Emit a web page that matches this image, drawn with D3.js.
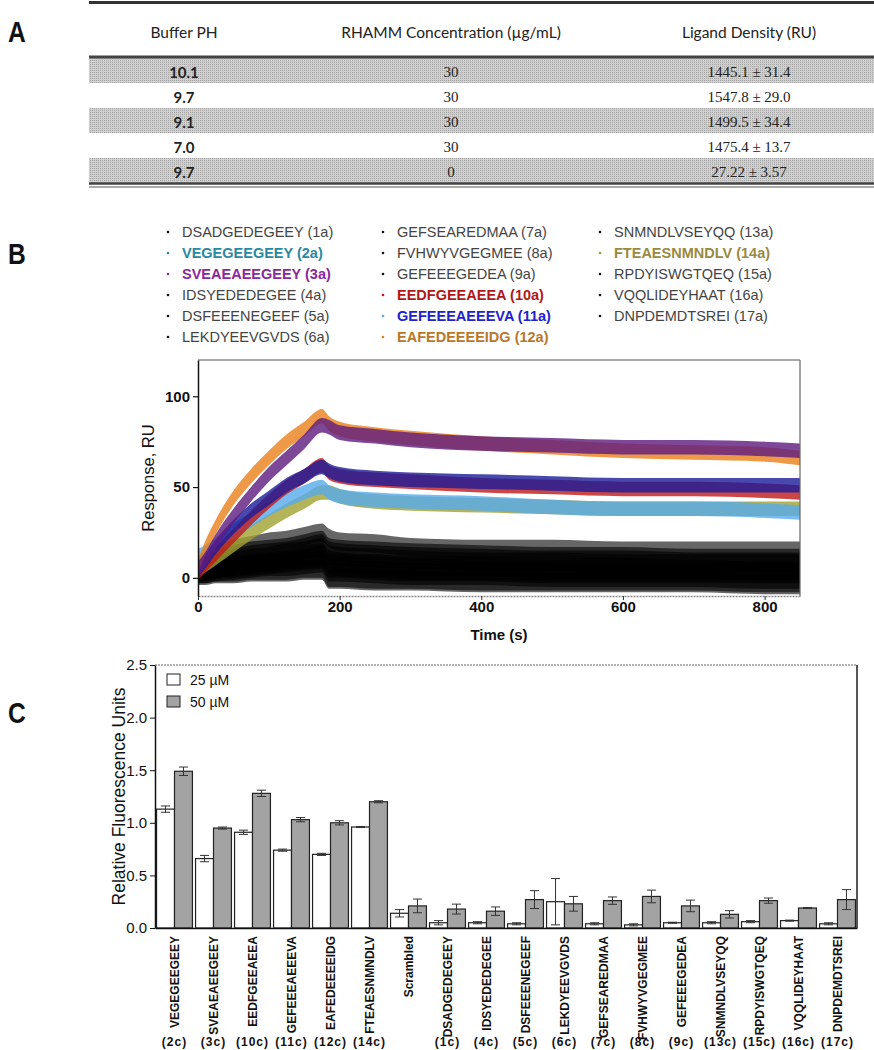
<!DOCTYPE html>
<html><head><meta charset="utf-8">
<script src="https://cdn.jsdelivr.net/npm/d3@7"></script>
<style>body{margin:0;background:#fff}</style>
</head><body><svg id="c" width="874" height="1050"></svg>
<script>
// ---------- Panel A data ----------
const tableHeaders = ["Buffer PH", "RHAMM Concentration (µg/mL)", "Ligand Density (RU)"];
const bufferPH = ["10.1", "9.7", "9.1", "7.0", "9.7"];
const rhammConc = ["30", "30", "30", "30", "0"];
const ligandDensity = ["1445.1 ± 31.4", "1547.8 ± 29.0", "1499.5 ± 34.4", "1475.4 ± 13.7", "27.22 ± 3.57"];

// ---------- Panel B data ----------
const legendLabels = ["DSADGEDEGEEY (1a)", "VEGEGEEGEEY (2a)", "SVEAEAEEGEEY (3a)", "IDSYEDEDEGEE (4a)",
  "DSFEEENEGEEF (5a)", "LEKDYEEVGVDS (6a)", "GEFSEAREDMAA (7a)", "FVHWYVGEGMEE (8a)", "GEFEEEGEDEA (9a)",
  "EEDFGEEAEEA (10a)", "GEFEEEAEEEVA (11a)", "EAFEDEEEEIDG (12a)", "SNMNDLVSEYQQ (13a)", "FTEAESNMNDLV (14a)",
  "RPDYISWGTQEQ (15a)", "VQQLIDEYHAAT (16a)", "DNPDEMDTSREI (17a)"];
const peptideIds = ["1a","2a","3a","4a","5a","6a","7a","8a","9a","10a","11a","12a","13a","14a","15a","16a","17a"];
const sensorTimes = [0, 10, 25, 50, 75, 100, 125, 150, 175, 185, 200, 250, 300, 400, 500, 600, 700, 800, 850];
const resp1a  = [3,4,5,6,8,9,10,11,13,8,8,7,6,6,5,5,5,4,4];
const resp2a  = [4,9,17,28,37,44,51,56,61,59,57,55,54,53,52,51,51,51,51];
const resp3a  = [5,10,20,34,46,57,66,75,84,83,80,78,76,74,73,72,72,71,70];
const resp4a  = [5,7,10,13,15,16,17,19,21,17,16,15,14,13,12,12,11,11,11];
const resp5a  = [2,2,3,3,4,4,4,5,5,0,0,-1,-1,-2,-2,-2,-2,-3,-3];
const resp6a  = [6,10,13,16,18,20,21,23,25,22,20,19,17,16,16,15,15,15,15];
const resp7a  = [4,4,5,7,8,10,11,13,14,10,9,8,7,7,6,6,5,5,5];
const resp8a  = [2,2,3,4,5,6,6,7,8,3,3,2,1,1,0,0,0,-1,-1];
const resp9a  = [3,3,4,5,6,7,8,9,10,5,5,4,3,3,2,2,2,2,2];
const resp10a = [3,7,13,23,33,42,50,56,62,58,56,54,53,51,50,49,49,48,47];
const resp11a = [12,14,18,26,32,38,43,47,50,47,45,43,42,41,39,38,38,37,36];
const resp12a = [6,16,28,44,56,66,75,82,89,85,82,79,77,74,72,70,69,68,66];
const resp13a = [4,4,5,6,7,8,9,10,11,7,6,5,4,4,3,3,3,3,3];
const resp14a = [5,7,11,18,25,31,37,42,47,47,45,42,41,40,39,38,38,38,38];
const resp15a = [3,4,6,9,11,12,14,15,17,13,12,11,10,9,9,8,8,8,8];
const resp16a = [1,1,2,2,3,3,3,4,4,-1,-1,-2,-2,-3,-3,-3,-3,-4,-4];
const resp17a = [5,6,8,11,13,14,15,17,19,15,14,13,12,11,10,10,9,9,9];
const xTicksB = [0, 200, 400, 600, 800];
const yTicksB = [0, 50, 100];

// ---------- Panel C data ----------
const categoriesC = ["VEGEGEEGEEY","SVEAEAEEGEEY","EEDFGEEAEEA","GEFEEEAEEEVA","EAFEDEEEEIDG","FTEAESNMNDLV",
  "Scrambled","DSADGEDEGEEY","IDSYEDEDEGEE","DSFEEENEGEEF","LEKDYEEVGVDS","GEFSEAREDMAA","FVHWYVGEGMEE",
  "GEFEEEGEDEA","SNMNDLVSEYQQ","RPDYISWGTQEQ","VQQLIDEYHAAT","DNPDEMDTSREI"];
const subLabelsC = ["(2c)","(3c)","(10c)","(11c)","(12c)","(14c)","","(1c)","(4c)","(5c)","(6c)","(7c)","(8c)","(9c)","(13c)","(15c)","(16c)","(17c)"];
const values25 = [1.13,0.66,0.91,0.74,0.70,0.96,0.14,0.05,0.05,0.04,0.25,0.04,0.03,0.05,0.05,0.06,0.07,0.04];
const err25    = [0.03,0.03,0.02,0.01,0.01,0.005,0.035,0.02,0.01,0.01,0.22,0.01,0.01,0.005,0.01,0.01,0.005,0.01];
const values50 = [1.49,0.95,1.28,1.03,1.00,1.20,0.21,0.18,0.16,0.27,0.23,0.26,0.30,0.21,0.13,0.26,0.19,0.27];
const err50    = [0.04,0.01,0.03,0.02,0.02,0.01,0.065,0.047,0.04,0.085,0.07,0.035,0.06,0.055,0.035,0.025,0.005,0.095];
const seriesC = ["25 µM", "50 µM"];
const yTicksC = [0, 0.5, 1.0, 1.5, 2.0, 2.5];

// ---------- styles ----------
const svg = d3.select("#c");
const SANS = "'Liberation Sans', Arial, sans-serif";
const defs = svg.append("defs");
const pat = defs.append("pattern").attr("id","shade").attr("width",2).attr("height",2).attr("patternUnits","userSpaceOnUse");
pat.append("rect").attr("width",2).attr("height",2).attr("fill","#d0d0d0");
pat.append("rect").attr("width",1).attr("height",1).attr("fill","#a4a4a4");

function panelLetter(t, x, y){
  svg.append("text").attr("transform",`translate(${x},${y}) scale(0.82,1)`)
    .attr("font-family",SANS).attr("font-weight","bold").attr("font-size",30).attr("fill","#111").text(t);
}

// ---------- Panel A ----------
panelLetter("A", 8, 42);
const tx0 = 89, tx1 = 874;
const colX = d3.scaleOrdinal().domain([0,1,2]).range([184, 451, 749]);
const rowY = d3.scaleBand().domain(d3.range(bufferPH.length)).range([58, 183]);
const gA = svg.append("g");
gA.selectAll("rect.sh").data(d3.range(bufferPH.length).filter(i=>i%2===0)).join("rect")
  .attr("x",tx0).attr("width",tx1-tx0).attr("y",i=>rowY(i)).attr("height",rowY.bandwidth())
  .attr("fill","url(#shade)");
gA.append("line").attr("x1",tx0).attr("x2",tx1).attr("y1",2.5).attr("y2",2.5).attr("stroke","#333").attr("stroke-width",3);
gA.append("line").attr("x1",tx0).attr("x2",tx1).attr("y1",57).attr("y2",57).attr("stroke","#444").attr("stroke-width",3);
gA.append("line").attr("x1",tx0).attr("x2",tx1).attr("y1",183.5).attr("y2",183.5).attr("stroke","#444").attr("stroke-width",2.5);
gA.append("line").attr("x1",tx0).attr("x2",tx1).attr("y1",187).attr("y2",187).attr("stroke","#555").attr("stroke-width",1);
gA.selectAll("text.h").data(tableHeaders).join("text")
  .attr("x",(d,i)=>colX(i)).attr("y",32).attr("text-anchor","middle").attr("dominant-baseline","central")
  .attr("font-family","Lato, 'Open Sans', sans-serif").attr("font-size",15.5).attr("fill","#222").text(d=>d);
const cols = [bufferPH, rhammConc, ligandDensity];
cols.forEach((arr, c) => {
  gA.selectAll("text.c"+c).data(arr).join("text")
    .attr("x",colX(c)).attr("y",(d,i)=>rowY(i)+rowY.bandwidth()/2+1)
    .attr("text-anchor","middle").attr("dominant-baseline","central")
    .attr("font-family", c===0 ? "Lato, sans-serif" : "'Liberation Serif', serif")
    .attr("font-weight", c===0 ? "bold" : "normal")
    .attr("font-size", 15).attr("fill","#222").text(d=>d);
});

// ---------- Panel B legend ----------
panelLetter("B", 8, 264);
const textColor = {"2a":"#2a88a0","3a":"#8a2a9a","10a":"#b01818","11a":"#2222cc","12a":"#b8782a","14a":"#9a8a40"};
const bulletColor = {"2a":"#2a88a0","3a":"#8a2a9a","10a":"#c01818","11a":"#55aaee","12a":"#e8801a","14a":"#a0a030"};
const legCol = d3.scaleOrdinal().domain([0,1,2]).range([168, 383, 600]);
const legRow = d3.scaleLinear().domain([0,5]).range([232, 337]);
const gL = svg.append("g");
legendLabels.forEach((lab, i) => {
  const id = peptideIds[i];
  const col = Math.floor(i/6), row = i%6;
  const x = legCol(col), y = legRow(row);
  gL.append("circle").attr("cx",x).attr("cy",y).attr("r",1.3).attr("fill", bulletColor[id] || "#111");
  gL.append("text").attr("x",x+14).attr("y",y).attr("dominant-baseline","central")
    .attr("font-family",SANS).attr("font-size",14.5)
    .attr("font-weight", textColor[id] ? "bold" : "normal")
    .attr("fill", textColor[id] || "#444").text(lab);
});

// ---------- Panel B plot ----------
const xB = d3.scaleLinear().domain([0, 850]).range([198, 800]);
const yB = d3.scaleLinear().domain([-10, 120]).range([596, 360]);
defs.append("clipPath").attr("id","clipB").append("rect")
  .attr("x",xB(0)).attr("y",yB(120)).attr("width",xB(850)-xB(0)).attr("height",yB(-10)-yB(120));
const gB = svg.append("g").attr("clip-path","url(#clipB)");
const blackSeries = [resp1a,resp4a,resp5a,resp6a,resp7a,resp8a,resp9a,resp13a,resp15a,resp16a,resp17a];
const colorSeries = [
  {v: resp14a, c: "#a0a030"},
  {v: resp11a, c: "#55aaee"},
  {v: resp10a, c: "#c01818"},
  {v: resp2a,  c: "#1a1a99"},
  {v: resp12a, c: "#e8801a"},
  {v: resp3a,  c: "#5e1a80"}
];
function band(vals, hw){
  return d3.area().x((d,i)=>xB(sensorTimes[i])).y0(d=>yB(d-hw)).y1(d=>yB(d+hw)).curve(d3.curveMonotoneX)(vals);
}
blackSeries.forEach(v => gB.append("path").attr("d", band(v, 5)).attr("fill","#000").attr("fill-opacity",0.6));
colorSeries.forEach(s => gB.append("path").attr("d", band(s.v, 4)).attr("fill", s.c).attr("fill-opacity",0.8));

// frame
svg.append("line").attr("x1",xB(0)).attr("x2",xB(850)).attr("y1",yB(120)).attr("y2",yB(120)).attr("stroke","#555").attr("stroke-width",1.2);
svg.append("line").attr("x1",xB(850)).attr("x2",xB(850)).attr("y1",yB(120)).attr("y2",yB(-10)).attr("stroke","#666").attr("stroke-width",1.2);
const axBx = svg.append("g").attr("transform",`translate(0,${yB(-10)})`)
  .call(d3.axisBottom(xB).tickValues(xTicksB).tickSize(4).tickSizeOuter(0));
axBx.select(".domain").attr("stroke","#888").attr("stroke-dasharray","2,1").attr("stroke-width",1.5);
axBx.selectAll(".tick line").attr("stroke","#333");
axBx.selectAll(".tick text").attr("font-family",SANS).attr("font-weight","bold").attr("font-size",15).attr("fill","#111").attr("dy","0.6em");
const axBy = svg.append("g").attr("transform",`translate(${xB(0)},0)`)
  .call(d3.axisLeft(yB).tickValues(yTicksB).tickSize(5).tickSizeOuter(0));
axBy.select(".domain").attr("stroke","#111").attr("stroke-width",1.5);
axBy.selectAll(".tick line").attr("stroke","#111").attr("stroke-width",1.2);
axBy.selectAll(".tick text").attr("font-family",SANS).attr("font-weight","bold").attr("font-size",15).attr("fill","#111");
svg.append("text").attr("x",(xB(0)+xB(850))/2).attr("y",634).attr("text-anchor","middle").attr("dominant-baseline","central")
  .attr("font-family",SANS).attr("font-weight","bold").attr("font-size",15).attr("fill","#111").text("Time (s)");
svg.append("text").attr("transform",`translate(148,${(yB(120)+yB(-10))/2}) rotate(-90)`).attr("text-anchor","middle")
  .attr("dominant-baseline","central").attr("font-family",SANS).attr("font-size",16.5).attr("fill","#111").text("Response, RU");

// ---------- Panel C ----------
panelLetter("C", 8, 723);
const x0 = d3.scaleBand().domain(categoriesC).range([155, 857]).paddingInner(0.08).paddingOuter(0.04);
const x1 = d3.scaleBand().domain(seriesC).range([0, x0.bandwidth()]);
const yC = d3.scaleLinear().domain([0, 2.5]).range([928, 665]);
const gC = svg.append("g");
gC.append("line").attr("x1",155).attr("x2",857).attr("y1",yC(2.5)).attr("y2",yC(2.5)).attr("stroke","#999").attr("stroke-dasharray","2,1").attr("stroke-width",1.3);
gC.append("line").attr("x1",857).attr("x2",857).attr("y1",yC(2.5)).attr("y2",yC(0)).attr("stroke","#555").attr("stroke-width",2);
const barData = [];
categoriesC.forEach((c,i)=>{
  barData.push({c, s: seriesC[0], v: values25[i], e: err25[i]});
  barData.push({c, s: seriesC[1], v: values50[i], e: err50[i]});
});
gC.selectAll("rect.bar").data(barData).join("rect")
  .attr("x",d=>x0(d.c)+x1(d.s)).attr("width",x1.bandwidth())
  .attr("y",d=>yC(d.v)).attr("height",d=>yC(0)-yC(d.v))
  .attr("fill",d=>d.s===seriesC[0] ? "#fff" : "#a3a3a3").attr("stroke","#222").attr("stroke-width",1.2);
const eb = gC.selectAll("g.eb").data(barData).join("g").attr("stroke","#333").attr("stroke-width",1);
eb.append("line").attr("x1",d=>x0(d.c)+x1(d.s)+x1.bandwidth()/2).attr("x2",d=>x0(d.c)+x1(d.s)+x1.bandwidth()/2)
  .attr("y1",d=>yC(d.v+d.e)).attr("y2",d=>yC(Math.max(0,d.v-d.e)));
[1,-1].forEach(sg=>{
  eb.append("line").attr("x1",d=>x0(d.c)+x1(d.s)+x1.bandwidth()/2-4.5).attr("x2",d=>x0(d.c)+x1(d.s)+x1.bandwidth()/2+4.5)
    .attr("y1",d=>yC(d.v+sg*d.e)).attr("y2",d=>yC(d.v+sg*d.e));
});
const axCx = gC.append("g").attr("transform",`translate(0,${yC(0)})`)
  .call(d3.axisBottom(x0).tickSize(0).tickFormat(""));
axCx.select(".domain").attr("stroke","#111").attr("stroke-width",1.5);
const axCy = gC.append("g").attr("transform","translate(155,0)")
  .call(d3.axisLeft(yC).tickValues(yTicksC).tickFormat(d3.format(".1f")).tickSize(5).tickSizeOuter(0));
axCy.select(".domain").attr("stroke","#111").attr("stroke-width",1.5);
axCy.selectAll(".tick line").attr("stroke","#111");
axCy.selectAll(".tick text").attr("font-family",SANS).attr("font-size",15).attr("fill","#111");
svg.append("text").attr("transform",`translate(119,${(yC(0)+yC(2.5))/2}) rotate(-90)`).attr("text-anchor","middle")
  .attr("dominant-baseline","central").attr("font-family",SANS).attr("font-size",17.5).attr("fill","#111").text("Relative Fluorescence Units");
gC.selectAll("text.cat").data(categoriesC).join("text")
  .attr("transform",d=>`translate(${x0(d)+x0.bandwidth()/2},936) rotate(-90)`)
  .attr("text-anchor","end").attr("dominant-baseline","central")
  .attr("font-family",SANS).attr("font-weight","bold").attr("font-size",12).attr("fill","#111").text(d=>d);
gC.selectAll("text.sub").data(categoriesC).join("text")
  .attr("x",d=>x0(d)+x0.bandwidth()/2).attr("y",1042).attr("text-anchor","middle").attr("dominant-baseline","central")
  .attr("font-family",SANS).attr("font-weight","bold").attr("font-size",12).attr("letter-spacing",1).attr("fill","#111")
  .text((d,i)=>subLabelsC[i]);
const legC = gC.selectAll("g.lc").data(seriesC).join("g").attr("transform",(d,i)=>`translate(167,${674+i*22})`);
legC.append("rect").attr("width",13).attr("height",11).attr("fill",(d,i)=>i===0?"#fff":"#a3a3a3").attr("stroke","#222").attr("stroke-width",1);
legC.append("text").attr("x",23).attr("y",6).attr("dominant-baseline","central").attr("font-family",SANS).attr("font-size",14).attr("fill","#111").text(d=>d);
</script></body></html>
